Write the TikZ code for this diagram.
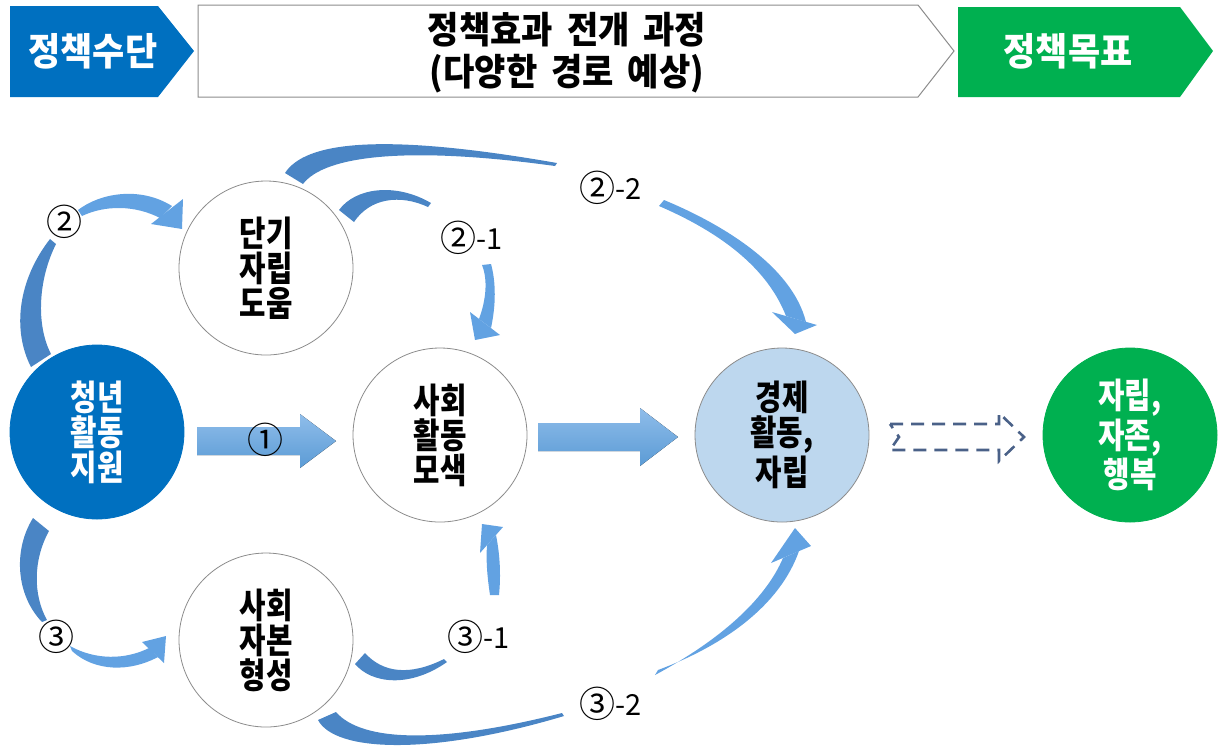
\documentclass[tikz,border=0pt]{standalone}
\usepackage{fontspec}
\newfontfamily\krb[FakeStretch=0.82]{Noto Sans CJK KR}
\newfontfamily\krh[FakeStretch=0.92]{Noto Sans CJK KR}
\newfontfamily\krw{Noto Sans CJK KR}
\newcommand\cdig[1]{{\fontsize{18}{18}\selectfont #1}}
\newcommand\suff[1]{\raisebox{1.3pt}{#1}}
\definecolor{hblue}{HTML}{0070C0}
\definecolor{hgreen}{HTML}{00B050}
\definecolor{lblue}{HTML}{BDD7EE}
\definecolor{adark}{HTML}{4A85C5}
\definecolor{alight}{HTML}{62A2E2}
\definecolor{atop}{HTML}{8FBDEA}
\definecolor{abot}{HTML}{5B9BD5}
\definecolor{dashc}{HTML}{4A6188}
\definecolor{rimc}{HTML}{8C8C8C}
\begin{document}
\begin{tikzpicture}[x=0.5pt,y=-0.5pt,
  circ/.style={circle, minimum size=87pt, inner sep=0pt, draw=rimc, line width=0.4pt, align=center,
    font=\krb\bfseries\fontsize{17.5}{17.5}\selectfont},
  htext/.style={font=\krh\bfseries\fontsize{19}{21}\selectfont, inner sep=0pt},
  lab/.style={font=\krw\fontsize{14.5}{16}\selectfont, inner sep=0pt},
  tail/.style={fill=adark},
  head/.style={fill=alight},
  sarrow/.style={top color=atop, bottom color=abot, draw=none},
  darrow/.style={draw=dashc, line width=1.3pt, dash pattern=on 6.5pt off 4pt, line join=miter}
]
\useasboundingbox (0,0) rectangle (1219,752);

% ---------- header ----------
\fill[hblue] (10,6) -- (158,6) -- (194,51) -- (158,97) -- (10,97) -- cycle;
\node[htext, text=white] (hL) at (93,51) {정책수단};
\draw[draw=rimc, line width=0.5pt, fill=white] (198,5) -- (918,5) -- (954,51) -- (918,97) -- (198,97) -- cycle;
\node[font=\krh\bfseries\fontsize{18.5}{21}\selectfont, align=center, inner sep=0pt] (hM) at (567,53)
  {정책효과 \,전개 \,과정\\(다양한 \,경로 \,예상)};
\fill[hgreen] (958,7) -- (1180,7) -- (1213,51) -- (1180,97) -- (958,97) -- cycle;
\node[htext, text=white] (hR) at (1068,51) {정책목표};

% ---------- circles ----------
\node[circ, fill=hblue, draw=hblue, text=white] (youth) at (97,432) {청년\\활동\\지원};
\node[circ, fill=white] (short) at (266,268) {단기\\자립\\도움};
\node[circ, fill=white] (social) at (440,435) {사회\\활동\\모색};
\node[circ, fill=white] (capital) at (266,640) {사회\\자본\\형성};
\node[circ, fill=lblue] (econ) at (782,435) {경제\\활동,\\자립};
\node[circ, fill=hgreen, draw=hgreen, text=white] (goal) at (1130,435) {자립,\\자존,\\행복};

% ---------- straight arrows ----------
\fill[sarrow] (197,427) -- (300,427) -- (300,414) -- (336,441) -- (300,468) -- (300,455) -- (197,455) -- cycle;
\fill[sarrow] (538,423) -- (640,423) -- (640,408) -- (678,437) -- (640,466) -- (640,451) -- (538,451) -- cycle;
\draw[darrow] (890,424) -- (999,424) -- (999,413) -- (1024,437) -- (999,461) -- (999,450) -- (890,450) -- (899,437) -- cycle;

% ---------- curved arrow 2 ----------
\fill[tail] (31,367) .. controls (12,330) and (18,280) .. (50,239)
  -- (56,244) .. controls (38,280) and (36,325) .. (51,354) -- cycle;
\fill[head] (78,210) .. controls (100,193) and (140,186) .. (172,206)
  -- (160,218) .. controls (135,205) and (105,205) .. (82,216) -- cycle;
\fill[head] (183,199) -- (182,229) -- (151,224) -- cycle;

% ---------- curved arrow 3 ----------
\fill[tail] (33,518) .. controls (13,550) and (16,595) .. (42,622)
  -- (47,620) .. controls (33,595) and (33,560) .. (49,531) -- cycle;
\fill[head] (72,651) .. controls (95,672) and (130,672) .. (158,657)
  -- (149,648) .. controls (125,660) and (95,660) .. (70,646) -- cycle;
\fill[head] (166,636) -- (142,642) -- (164,663) -- cycle;

% ---------- curved arrow 2-1 ----------
\fill[tail] (339,210) .. controls (355,188) and (395,182) .. (431,203)
  -- (428,207) .. controls (400,194) and (370,198) .. (354,222) -- cycle;
\fill[head] (482,265) .. controls (488,280) and (486,300) .. (479,319)
  -- (491,328) .. controls (496,305) and (496,282) .. (491,264) -- cycle;
\fill[head] (470,312) -- (500,335) -- (475,340) -- cycle;

% ---------- curved arrow 2-2 ----------
\fill[tail] (285,173) .. controls (305,142) and (380,132) .. (557,163)
  -- (555,166) .. controls (410,146) and (325,155) .. (303,184) -- cycle;
\fill[head] (659,206) .. controls (710,228) and (765,262) .. (786,316)
  -- (806,322) .. controls (792,266) and (722,224) .. (664,200) -- cycle;
\fill[head] (772,312) -- (817,325) -- (795,334) -- cycle;

% ---------- curved arrow 3-1 ----------
\fill[tail] (355,664) .. controls (372,684) and (410,688) .. (447,662)
  -- (444,659) .. controls (410,676) and (383,673) .. (365,653) -- cycle;
\fill[head] (490,595) .. controls (487,575) and (486,560) .. (487,545)
  -- (496,535) .. controls (500,555) and (501,575) .. (499,595) -- cycle;
\fill[head] (480,553) -- (503,527) -- (482,524) -- cycle;

% ---------- curved arrow 3-2 ----------
\fill[tail] (318,720) .. controls (335,752) and (430,756) .. (564,716)
  -- (562,713) .. controls (440,744) and (362,742) .. (336,712) -- cycle;
\fill[head] (655,675) .. controls (720,640) and (765,600) .. (783,558)
  -- (799,551) .. controls (780,605) and (725,645) .. (658,670) -- cycle;
\fill[head] (795,528) -- (771,563) -- (811,546) -- cycle;

% ---------- labels ----------
\node[lab] (l2) at (64,222) {\cdig{②}};
\node[lab] (l3) at (57,637) {\cdig{③}};
\node[lab] (l1) at (265,440) {\cdig{①}};
\node[lab] (l21) at (472,238) {\cdig{②}\suff{-1}};
\node[lab] (l22) at (611,188) {\cdig{②}\suff{-2}};
\node[lab] (l31) at (479,637) {\cdig{③}\suff{-1}};
\node[lab] (l32) at (611,704) {\cdig{③}\suff{-2}};
\end{tikzpicture}
\end{document}
